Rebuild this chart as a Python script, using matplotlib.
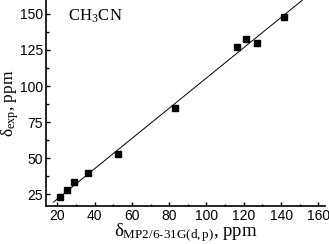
import numpy as np
import matplotlib
matplotlib.use("Agg")
import matplotlib.pyplot as plt
from matplotlib.ticker import MultipleLocator

calc = [21.6, 25.5, 29.1, 36.4, 52.5, 83.1, 116.3, 121.1, 127.3, 141.3]
expt = [22.8, 27.8, 33.1, 39.4, 52.8, 84.5, 127.1, 132.4, 129.6, 148.1]
xticks = [20, 40, 60, 80, 100, 120, 140, 160]
yticks = [25, 50, 75, 100, 125, 150]
fit_x = [18, 165]

plt.rcParams['mathtext.fontset'] = 'stix'
plt.rcParams['font.family'] = 'Liberation Serif'

fig = plt.figure(figsize=(3.29, 2.44), dpi=100)
ax = fig.add_axes([46/329, 1-206/244, (325-46)/329, 206/244])
ax.set_xlim(14, 163.5)
ax.set_ylim(16.7, 159.7)

slope, intercept = np.polyfit(calc, expt, 1)
fx = np.array(fit_x, dtype=float)
ax.plot(fx, slope*fx + intercept, color='black', lw=0.7)
ax.plot(calc, expt, 's', color='black', ms=5)

for s in ['top', 'right']:
    ax.spines[s].set_visible(False)
for s in ['left', 'bottom']:
    ax.spines[s].set_linewidth(1.2)

ax.set_xticks(xticks)
ax.set_yticks(yticks)
ax.xaxis.set_minor_locator(MultipleLocator(10))
ax.yaxis.set_minor_locator(MultipleLocator(12.5))
ax.tick_params(which='major', direction='in', length=3, width=1, labelsize=10, pad=2)
ax.tick_params(which='minor', direction='in', length=1.8, width=1)
for lab in ax.get_xticklabels() + ax.get_yticklabels():
    lab.set_fontfamily('Liberation Sans')

ax.set_xlabel(r'$\mathregular{\delta_{MP2/6\text{-}31G(d,p)}}$, ppm', fontsize=13.5, labelpad=-1)
ax.set_ylabel(r'$\mathregular{\delta_{exp}}$, ppm', fontsize=12.5, labelpad=-0.5)
ax.text(0.08, 0.9, r'CH$_\mathregular{3}$CN', transform=ax.transAxes, fontsize=12)

fig.savefig('out.png', dpi=100)
